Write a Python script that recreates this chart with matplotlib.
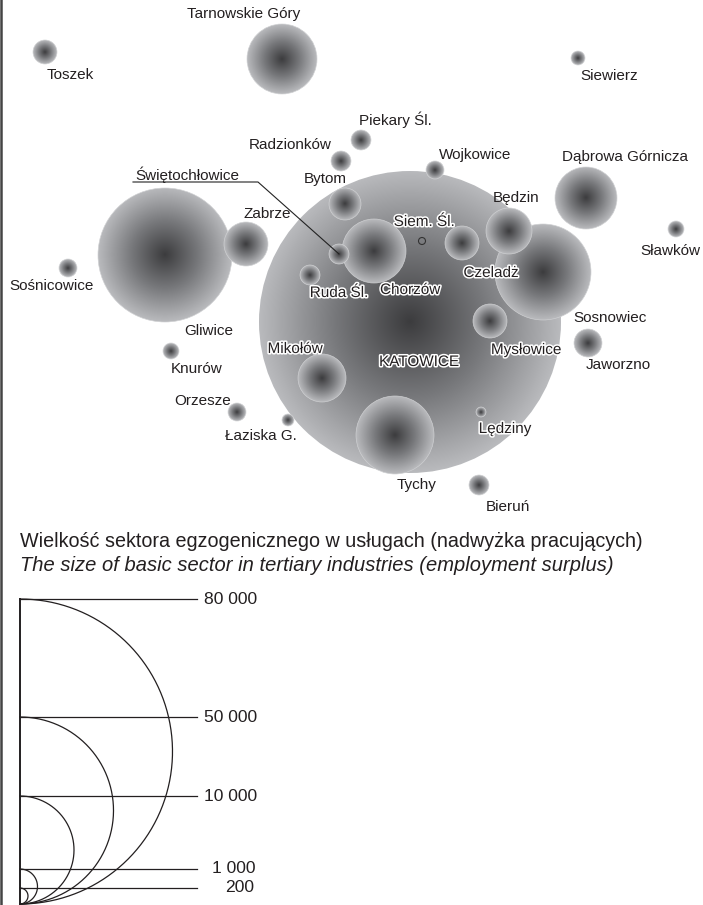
#For plotting---
import numpy as np
import matplotlib
matplotlib.use('Agg')
import matplotlib.pyplot as plt
from matplotlib.colors import LinearSegmentedColormap
from matplotlib.patches import Circle
import matplotlib.patheffects as pe
plt.rcParams['font.family']=['Liberation Sans','DejaVu Sans']
#---
# towns, in drawing order: centre x, y and radius in pixels of the map
towns=['Katowice','Tarnowskie Gory','Toszek','Siewierz','Piekary','Radzionkow','Wojkowice',
       'Dabrowa','Bytom','Sosnowiec','Bedzin','Slawkow','Gliwice','Zabrze','Sosnicowice',
       'Chorzow','Swietochlowice','Siemianowice','Ruda','Myslowice','Jaworzno','Knurow',
       'Mikolow','Tychy','Orzesze','Laziska','Ledziny','Bierun']
cx=[410,282,45,578,361,341,435,586,345,543,509,676,165,246,68,374,339,462,310,490,588,171,322,395,237,288,481,479]
cy=[322,59,52,58,140,161,170,198,204,272,231,229,255,244,268,251,254,243,275,321,343,351,378,435,412,420,412,485]
rad=[151,35,12,7,10,10,9,31,16,48,23,8,67,22,9,32,10,17,10,17,14,8,24,39,9,6,5,10]

# plain labels
names=['Tarnowskie Góry','Toszek','Siewierz','Piekary Śl.','Radzionków','Wojkowice','Dąbrowa Górnicza',
       'Bytom','Będzin','Sławków','Zabrze','Sośnicowice','Gliwice','Knurów','Sosnowiec','Jaworzno',
       'Orzesze','Łaziska G.','Tychy','Bieruń','Świętochłowice']
name_x=[244,70,609,395,290,475,625,325,516,670,267,52,209,197,610,618,203,261,417,508,187]
name_y=[14,75,76,120,145,155,157,179,198,251,214,286,331,369,318,365,401,436,485,507,175]
# labels with a white outline
halo_names=['Siem. Śl.','Czeladż','Ruda Śl.','Chorzów','Mikołów','KATOWICE','Mysłowice','Lędziny']
halo_x=[424,491,339,410,295,419,526,505]
halo_y=[222,273,293,290,349,362,350,429]

# legend
scale_labels=['80 000','50 000','10 000','1 000','200']
scale_top=[599,717,796,869,888]
scale_text_right=[257,257,257,256,254]
scale_text_y=[599,717,796,868,887]
scale_bottom=904

grad=LinearSegmentedColormap.from_list('grad',['#3c3c3e','#77787b','#b9babd'])
rr=np.linspace(-1,1,301)
xx,yy=np.meshgrid(rr,rr)
dist=np.clip(np.sqrt(xx**2+yy**2),0,1)

fig=plt.figure(figsize=(7.03,9.05),dpi=100)
ax=fig.add_axes([0,0,1,1])

for i in range(len(towns)):
    x,y,r=cx[i],cy[i],rad[i]
    im=ax.imshow(dist,cmap=grad,vmin=0,vmax=1,extent=[x-r,x+r,y+r,y-r],zorder=2+i*0.01,
                 interpolation='bilinear',aspect='auto')
    c=Circle((x,y),r,transform=ax.transData,fc='none',ec='none')
    ax.add_patch(c)
    im.set_clip_path(c)
    # thin light rim, seen on the circles lying over Katowice
    if i>0:
        ax.add_patch(Circle((x,y),r,fc='none',ec='#d0d1d3',lw=0.45,zorder=2+i*0.01))

ax.set_xlim(0,703)
ax.set_ylim(905,0)
ax.axis('off')

# small empty marker and the leader line
ax.add_patch(Circle((422,241),3.5,fc='none',ec='#333333',lw=0.8,zorder=3))
ax.plot([133,258,339],[182,182,254],color='#222222',lw=0.8,zorder=4)

for i in range(len(names)):
    ax.text(name_x[i],name_y[i],names[i],fontsize=11,color='#231f20',ha='center',va='center',zorder=5)
for i in range(len(halo_names)):
    ax.text(halo_x[i],halo_y[i],halo_names[i],fontsize=11,color='#231f20',ha='center',va='center',zorder=5,
            path_effects=[pe.withStroke(linewidth=2.2,foreground='white')])

ax.text(20,541,'Wielkość sektora egzogenicznego w usługach (nadwyżka pracujących)',fontsize=14.2,
        color='#231f20',ha='left',va='center')
ax.text(20,565,'The size of basic sector in tertiary industries (employment surplus)',fontsize=14.5,
        style='italic',color='#231f20',ha='left',va='center')

# frame line on the left side
ax.plot([1,1],[0,905],color='#444444',lw=1.8,zorder=6)

# scale
th=np.linspace(-np.pi/2,np.pi/2,300)
ax.plot([20,20],[scale_top[0],scale_bottom],color='#231f20',lw=1.4,zorder=6)
for i in range(len(scale_labels)):
    r=(scale_bottom-scale_top[i])/2.
    mid=scale_bottom-r
    ax.plot(20+r*np.cos(th),mid+r*np.sin(th),color='#231f20',lw=0.9,zorder=6)
    ax.plot([20,197],[scale_top[i],scale_top[i]],color='#231f20',lw=0.9,zorder=6)
    ax.text(scale_text_right[i],scale_text_y[i],scale_labels[i],fontsize=12.6,color='#231f20',
            ha='right',va='center',zorder=6)

plt.savefig('out.png',dpi=100)
